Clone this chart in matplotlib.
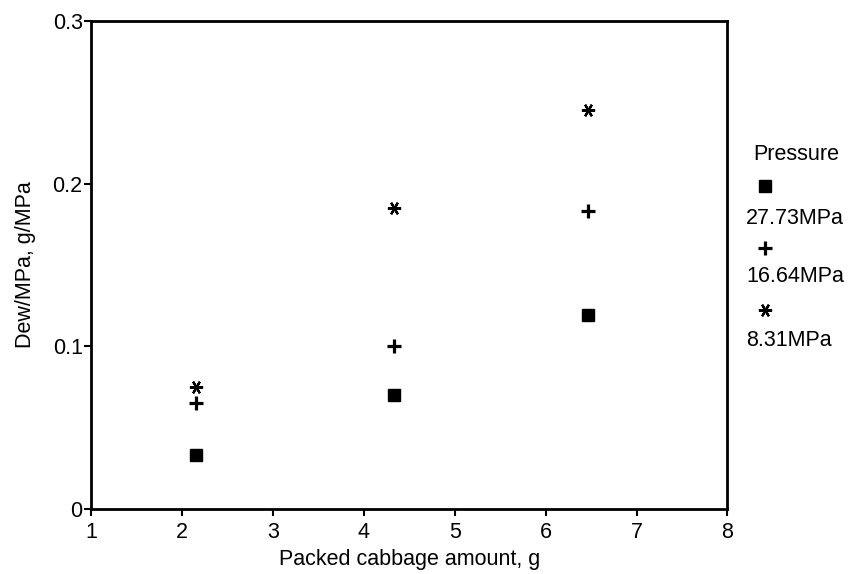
#Scatter of dew per pressure vs packed cabbage amount
import matplotlib
matplotlib.use("Agg")
import matplotlib.pyplot as plt

#Data
cabbage = [2.16, 4.33, 6.47]
dew_27 = [0.033, 0.070, 0.119]
dew_16 = [0.065, 0.100, 0.183]
dew_8 = [0.075, 0.185, 0.245]
labels = ["27.73MPa", "16.64MPa", "8.31MPa"]
x_ticks = [1, 2, 3, 4, 5, 6, 7, 8]
y_ticks = [0, 0.1, 0.2, 0.3]
y_tick_labels = ["0", "0.1", "0.2", "0.3"]

plt.rcParams["font.family"] = ["Liberation Sans", "DejaVu Sans"]
FS = 15.5

fig = plt.figure(figsize=(8.54, 5.74), dpi=100)
ax = fig.add_axes([0.1066, 0.1132, 0.7452, 0.8502])

#Marker styles for each series
star = (6, 2, 90)
styles = [
    dict(marker="s", markersize=8.5, color="black"),
    dict(marker="+", markersize=9.5, markeredgewidth=2.3, color="black"),
    dict(marker=star, markersize=9.5, markeredgewidth=1.6, color="black"),
]

for ys, st in zip([dew_27, dew_16, dew_8], styles):
    ax.plot(cabbage, ys, linestyle="none", **st)

ax.set_xlim(1, 8)
ax.set_ylim(0, 0.3)
ax.set_xticks(x_ticks)
ax.set_yticks(y_ticks)
ax.set_yticklabels(y_tick_labels)
ax.tick_params(direction="out", length=5, width=1.5, labelsize=FS, pad=1)
ax.tick_params(axis="x", pad=4)
for sp in ax.spines.values():
    sp.set_linewidth(2)

ax.set_xlabel("Packed cabbage amount, g", fontsize=FS, labelpad=5)
ax.set_ylabel("Dew/MPa, g/MPa", fontsize=FS, labelpad=12)

#Legend drawn by hand: marker above each label
fig.text(753 / 854, 1 - 154 / 574, "Pressure", fontsize=FS, va="center", ha="left")
marker_y = [186, 248, 310]
label_y = [218, 277, 340]
for st, lab, my, ly in zip(styles, labels, marker_y, label_y):
    fig.lines.append(plt.Line2D([765 / 854], [1 - my / 574], transform=fig.transFigure,
                                linestyle="none", **st))
    fig.text(746 / 854, 1 - ly / 574, lab, fontsize=FS, va="center", ha="left")

fig.savefig("out.png", dpi=100)
